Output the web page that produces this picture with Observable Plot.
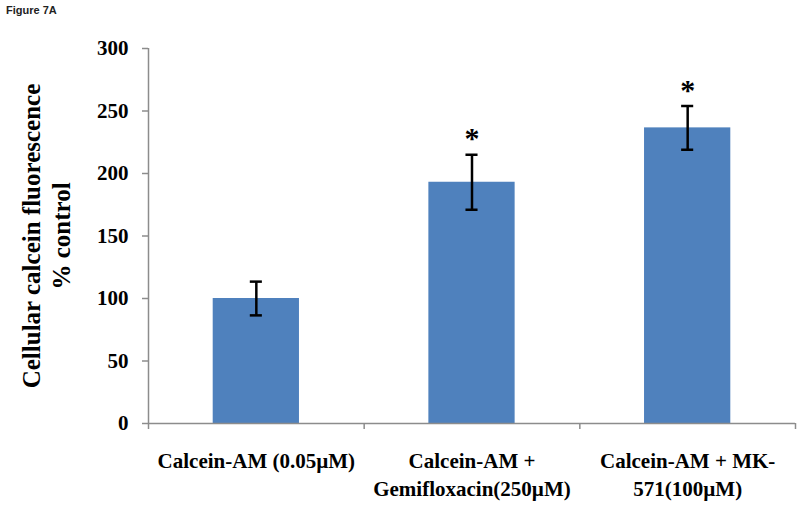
<!DOCTYPE html>
<html>
<head>
<meta charset="utf-8">
<script src="https://cdn.jsdelivr.net/npm/d3@7"></script>
<script src="https://cdn.jsdelivr.net/npm/@observablehq/plot@0.6"></script>
<style>
  html, body { margin: 0; padding: 0; background: #fff; }
  #wrap { position: relative; width: 800px; height: 506px; }
  #title { position: absolute; z-index: 2; left: 6px; top: 4px; font: bold 11px "Liberation Sans", Arial, sans-serif; color: #222; }
</style>
</head>
<body>
<div id="wrap">
  <div id="title">Figure 7A</div>
  <div id="chart"></div>
</div>
<script>
const categories = ["Calcein-AM (0.05\u00B5M)", "Calcein-AM +\nGemifloxacin(250\u00B5M)", "Calcein-AM + MK-\n571(100\u00B5M)"];
const means = [100, 193, 236.5];
const errors = [13.5, 22, 17.5];
const significant = [false, true, true];
const yTicks = [0, 50, 100, 150, 200, 250, 300];

const data = categories.map((c, i) => ({
  label: c, idx: i, mid: i + 0.5, mean: means[i], err: errors[i], sig: significant[i]
}));

const serif = "'Liberation Serif', 'Times New Roman', serif";
const axisGray = "#8c8c8c";
const capHalf = 0.028;

const chart = Plot.plot({
  width: 800,
  height: 506,
  marginLeft: 148,
  marginRight: 5,
  marginTop: 48,
  marginBottom: 83,
  style: { fontFamily: serif, background: "white" },
  x: { domain: [0, 3], axis: null },
  y: { domain: [0, 300], axis: null },
  marks: [
    Plot.rectY(data, { x1: d => d.idx + 0.3, x2: d => d.idx + 0.7, y1: 0, y2: "mean", fill: "#4f81bd" }),
    Plot.ruleX([0], { stroke: axisGray, strokeWidth: 1.5 }),
    Plot.ruleY([0], { stroke: axisGray, strokeWidth: 1.5 }),
    Plot.axisY({ ticks: yTicks, tickSize: 6, tickPadding: 14, stroke: axisGray, strokeOpacity: 1, strokeWidth: 1.5,
      fontSize: 21, fontWeight: "bold", fill: "#000", label: null, tickFormat: d => d }),
    Plot.axisX({ ticks: [0, 1, 2, 3], tickSize: 6, stroke: axisGray, strokeOpacity: 1, strokeWidth: 1.5, tickFormat: () => "", label: null }),
    Plot.text(data, { x: "mid", y: 0, text: "label", lineAnchor: "top", dy: 25, fontSize: 21, fontWeight: "bold", fill: "#000", lineHeight: 1.33 }),
    Plot.ruleX(data, { x: "mid", y1: d => d.mean - d.err, y2: d => d.mean + d.err, stroke: "#000", strokeWidth: 2.5 }),
    Plot.ruleY(data, { y: d => d.mean + d.err, x1: d => d.mid - capHalf, x2: d => d.mid + capHalf, stroke: "#000", strokeWidth: 2.5 }),
    Plot.ruleY(data, { y: d => d.mean - d.err, x1: d => d.mid - capHalf, x2: d => d.mid + capHalf, stroke: "#000", strokeWidth: 2.5 }),
    Plot.text(data.filter(d => d.sig), { x: "mid", y: d => d.mean + d.err, text: () => "*", dy: -16, fontSize: 30, fontWeight: "bold", fill: "#000" }),
    Plot.text(["Cellular calcein fluorescence\n% control"], { frameAnchor: "left", textAnchor: "middle", rotate: -90, dx: -103, fontSize: 25, fontWeight: "bold", fill: "#000", lineHeight: 1.2 })
  ]
});
document.getElementById("chart").appendChild(chart);
</script>
</body>
</html>
